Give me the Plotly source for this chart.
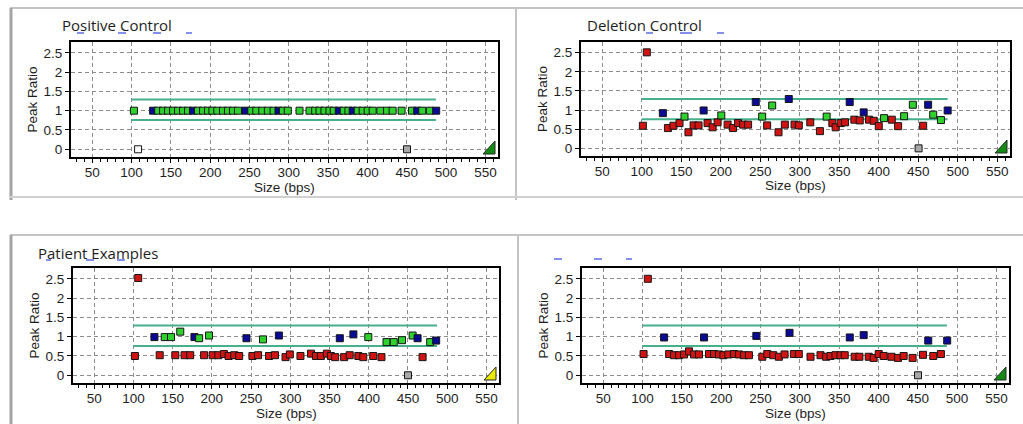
import plotly.graph_objects as go

# ---------------- data ----------------
# Types: G = target probe in range (green), B = reference probe (blue),
#        R = target probe out of range (red), S = grey control, W = empty (white)

pc_size = [103, 108.3, 127.4, 133.8, 140.1, 146.4, 152.8, 159.1, 165.5, 171.8, 178.2, 184.5,
           190.9, 197.2, 202.8, 209.1, 216.3, 222.6, 229, 235.3, 244.7, 252.3, 258.6, 266.2,
           273.4, 280.6, 286.9, 292.4, 298.7, 313.6, 326.3, 333.5, 339, 345.3, 351.7, 357.1,
           363.5, 369.8, 375.8, 381.2, 387.6, 393.9, 400.3, 406.6, 416.4, 424.9, 432, 443.4,
           450.3, 456.6, 463.3, 469.7, 479.4, 487.4]
pc_ratio = [1.0, 0.0, 1.0, 1.0, 1.0, 1.0, 1.0, 1.0, 1.0, 1.0, 1.0, 1.0,
            1.0, 1.0, 1.0, 1.0, 1.0, 1.0, 1.0, 1.0, 1.0, 1.0, 1.0, 1.0,
            1.0, 1.0, 1.0, 1.0, 1.0, 1.0, 1.0, 1.0, 1.0, 1.0, 1.0, 1.0,
            1.0, 1.0, 1.0, 1.0, 1.0, 1.0, 1.0, 1.0, 1.0, 1.0, 1.0, 1.0,
            0.0, 1.0, 1.0, 1.0, 1.0, 1.0]
pc_type = ["G", "W", "B", "G", "G", "G", "G", "G", "G", "G", "B", "G",
           "G", "G", "G", "G", "G", "G", "G", "G", "B", "G", "G", "G",
           "G", "G", "B", "G", "G", "G", "G", "G", "G", "G", "G", "G",
           "B", "G", "G", "B", "G", "G", "G", "G", "G", "G", "G", "G",
           "S", "G", "B", "G", "G", "B"]

dc_size = [101.3, 106.3, 126.6, 133, 140, 147.7, 154, 159, 165.5, 171.8, 178.2, 183.2,
           189.6, 195.9, 200.6, 208.6, 215.5, 221.8, 228.2, 234.5, 244.2, 252.3, 258.6, 265,
           273, 281, 286, 293.3, 298.7, 313.2, 325.4, 333.9, 341.1, 345.3, 351.7, 357.1,
           363.1, 369, 375.8, 380.8, 387.6, 393.5, 399.9, 406.6, 416.4, 424.4, 432, 443,
           450.3, 456.1, 462.4, 468.8, 478.6, 487.1]
dc_ratio = [0.59, 2.51, 0.92, 0.53, 0.59, 0.66, 0.83, 0.42, 0.60, 0.60, 0.99, 0.66,
            0.55, 0.68, 0.86, 0.62, 0.53, 0.66, 0.62, 0.62, 1.21, 0.83, 0.60, 1.12,
            0.42, 0.62, 1.29, 0.62, 0.60, 0.68, 0.45, 0.83, 0.66, 0.55, 0.66, 0.68,
            1.21, 0.75, 0.73, 0.94, 0.75, 0.72, 0.58, 0.79, 0.75, 0.58, 0.84, 1.14,
            0.0, 0.59, 1.14, 0.88, 0.74, 0.99]
dc_type = ["R", "R", "B", "R", "R", "R", "G", "R", "R", "R", "B", "R",
           "R", "R", "G", "R", "R", "R", "R", "R", "B", "G", "R", "G",
           "R", "R", "B", "R", "R", "R", "R", "G", "R", "R", "R", "R",
           "B", "R", "R", "B", "R", "R", "R", "G", "R", "R", "G", "G",
           "S", "R", "B", "G", "G", "B"]

pe_size = [101.9, 106.1, 126.8, 133.5, 139.9, 147.9, 153.4, 159.7, 165.2, 172.4, 177.8, 183.8,
           190.1, 196.4, 201, 208.2, 215.4, 221.3, 228.5, 234.8, 244.1, 251.7, 258.9, 265.2,
           272.8, 280.4, 285.4, 293.9, 299.4, 312.9, 326.4, 332.7, 339, 346.6, 351.7, 357.2,
           363.1, 368.6, 375.7, 380.4, 386.7, 393, 399.4, 405.7, 416.2, 422.6, 431.9, 442.4,
           450, 455.9, 462.2, 468.6, 478.3, 485.9]
pe_ratio = [0.50, 2.52, 0.99, 0.52, 0.99, 0.99, 0.52, 1.13, 0.52, 0.52, 0.99, 0.96,
            0.52, 1.03, 0.52, 0.52, 0.55, 0.50, 0.52, 0.50, 0.96, 0.50, 0.52, 0.93,
            0.50, 0.52, 1.03, 0.47, 0.54, 0.50, 0.56, 0.50, 0.50, 0.56, 0.50, 0.47,
            0.96, 0.47, 0.52, 1.06, 0.50, 0.47, 0.99, 0.50, 0.47, 0.86, 0.86, 0.91,
            0.0, 1.03, 0.96, 0.47, 0.86, 0.90]
pe_type = ["R", "R", "B", "R", "G", "G", "R", "G", "R", "R", "B", "G",
           "R", "G", "R", "R", "R", "R", "R", "R", "B", "R", "R", "G",
           "R", "R", "B", "R", "R", "R", "R", "R", "R", "R", "R", "R",
           "B", "R", "R", "B", "R", "R", "G", "R", "R", "G", "G", "G",
           "S", "G", "B", "R", "G", "B"]

p4_size = [101.3, 106.7, 127.4, 133.8, 140.1, 146.4, 152.8, 159.1, 165.5, 171.8, 178.2, 184.5,
           190.9, 197.2, 202.8, 209.1, 216.3, 222.6, 229, 235.3, 244.7, 252.3, 258.6, 266.2,
           273.4, 280.6, 286.9, 292.4, 298.7, 313.6, 326.3, 333.5, 339, 345.3, 351.7, 357.1,
           363.5, 369.8, 375.8, 381.2, 387.6, 393.9, 400.3, 406.6, 416.4, 424.9, 432, 443.4,
           450.3, 456.6, 463.3, 469.7, 479.4, 487.4]
p4_ratio = [0.55, 2.50, 0.98, 0.55, 0.52, 0.52, 0.54, 0.62, 0.54, 0.54, 0.98, 0.55,
            0.55, 0.54, 0.52, 0.54, 0.55, 0.54, 0.52, 0.52, 1.02, 0.48, 0.55, 0.52,
            0.48, 0.54, 1.10, 0.55, 0.55, 0.48, 0.52, 0.48, 0.50, 0.52, 0.52, 0.52,
            0.98, 0.48, 0.48, 1.04, 0.48, 0.45, 0.55, 0.50, 0.48, 0.45, 0.50, 0.45,
            0.0, 0.53, 0.90, 0.50, 0.55, 0.90]
p4_type = ["R", "R", "B", "R", "R", "R", "R", "R", "R", "R", "B", "R",
           "R", "R", "R", "R", "R", "R", "R", "R", "B", "R", "R", "R",
           "R", "R", "B", "R", "R", "R", "R", "R", "R", "R", "R", "R",
           "B", "R", "R", "B", "R", "R", "R", "R", "R", "R", "R", "R",
           "S", "R", "B", "R", "R", "B"]

panel_titles = ["Positive Control", "Deletion Control", "Patient Examples", ""]
thr_low = 0.76
thr_high = 1.29
thr_start = 100
thr_end = 487
x_ticks = [50, 100, 150, 200, 250, 300, 350, 400, 450, 500, 550]
y_ticks = [0, 0.5, 1, 1.5, 2, 2.5]
y_ticktext = ["0", "0.5", "1", "1.5", "2", "2.5"]

# ---------------- styling ----------------
W, H = 1023, 424
FILL = {"G": "#2fd12f", "B": "#0a0a96", "R": "#d01414", "S": "#a8a8a8", "W": "#ffffff"}
LINE_COL = "#45b08a"
TEXT = "#1e1e1e"
TICK_FONT = dict(family="Liberation Sans, Arial, sans-serif", size=13.5, color=TEXT)


def px(x):
    return x / W


def py(y):
    return 1 - y / H


# plot areas in pixels: left, right, top, bottom
areas = [(71, 498, 42, 157), (581, 1010, 42, 156), (73, 499, 268, 383), (582, 1009, 268, 383)]
data = [(pc_size, pc_ratio, pc_type), (dc_size, dc_ratio, dc_type),
        (pe_size, pe_ratio, pe_type), (p4_size, p4_ratio, p4_type)]

fig = go.Figure()
layout_axes = {}
for i, ((l, r, t, b), (xs, ys, ts)) in enumerate(zip(areas, data), start=1):
    xa = "x" if i == 1 else f"x{i}"
    ya = "y" if i == 1 else f"y{i}"
    for thr in (thr_high, thr_low):
        fig.add_trace(go.Scatter(x=[thr_start, thr_end], y=[thr, thr], mode="lines",
                                 line=dict(color=LINE_COL, width=2), xaxis=xa, yaxis=ya,
                                 showlegend=False, hoverinfo="skip"))
    fig.add_trace(go.Scatter(x=xs, y=ys, mode="markers", xaxis=xa, yaxis=ya, showlegend=False,
                             marker=dict(symbol="square", size=7,
                                         color=[FILL[k] for k in ts],
                                         line=dict(color="#151515", width=1))))
    common = dict(showline=True, linecolor="#000000", linewidth=2, mirror=True,
                  showgrid=True, gridcolor="#8c8c8c", gridwidth=1, griddash="4px,3px",
                  zeroline=False, ticks="outside", ticklen=4, tickcolor="#000000",
                  tickfont=TICK_FONT, fixedrange=True)
    layout_axes["xaxis" if i == 1 else f"xaxis{i}"] = dict(
        domain=[px(l), px(r)], range=[23, 566], anchor=ya, tickvals=x_ticks,
        ticktext=[str(v) for v in x_ticks], ticklabelstandoff=-2,
        minor=dict(dtick=10, tick0=0, ticks="outside", ticklen=3, tickcolor="#000000", showgrid=False),
        **common)
    layout_axes["yaxis" if i == 1 else f"yaxis{i}"] = dict(
        domain=[py(b), py(t)], range=[-0.2, 2.78], anchor=xa, tickvals=y_ticks,
        ticktext=y_ticktext, **common)

fig.update_layout(**layout_axes)

annotations = []
# axis titles
for (l, r, t, b) in areas:
    annotations.append(dict(text="Size (bps)", x=px((l + r) / 2), y=py(b + 30), xref="paper", yref="paper",
                            showarrow=False, font=TICK_FONT, xanchor="center", yanchor="middle",
                            borderpad=0))
    annotations.append(dict(text="Peak Ratio", x=px(l - 39), y=py((t + b) / 2), xref="paper", yref="paper",
                            showarrow=False, font=TICK_FONT, textangle=-90, xanchor="center", yanchor="middle"))
# panel titles
title_pos = [(60, 25), (585, 25), (36, 253), (554, 253)]
for txt, (tx, ty) in zip(panel_titles, title_pos):
    if txt:
        annotations.append(dict(text=txt, x=px(tx), y=py(ty), xref="paper", yref="paper", showarrow=False,
                                xanchor="left", yanchor="middle",
                                font=dict(family="Open Sans, sans-serif", size=15, color=TEXT)))
fig.update_layout(annotations=annotations)

shapes = []
# screenshot frame lines
frame = [((10, 8), (1023, 8), "#c4c4c4", 2), ((11, 8), (11, 200), "#a4a4a4", 3),
         ((516, 8), (516, 200), "#c4c4c4", 2), ((10, 197), (1023, 197), "#d0d0d0", 2),
         ((10, 235), (1023, 235), "#c4c4c4", 2), ((11, 235), (11, 424), "#a4a4a4", 3),
         ((518, 235), (518, 424), "#c4c4c4", 2)]
for (x0, y0), (x1, y1), c, w in frame:
    shapes.append(dict(type="line", xref="paper", yref="paper", x0=px(x0), y0=py(y0), x1=px(x1), y1=py(y1),
                       line=dict(color=c, width=w)))
# small blue marks under titles
dashes = [(77, 84, 33), (118, 126, 33), (153, 161, 33), (186, 192, 33),
          (646, 653, 33), (680, 692, 33), (717, 724, 33),
          (46, 51, 260), (86, 94, 260), (117, 125, 260),
          (554, 562, 259), (594, 602, 259), (626, 632, 259)]
for x0, x1, yy in dashes:
    shapes.append(dict(type="line", xref="paper", yref="paper", x0=px(x0), y0=py(yy), x1=px(x1), y1=py(yy),
                       line=dict(color="#5a6ae0", width=1.5)))
# status triangles in lower-right corner of each plot
tri_cols = ["#138a13", "#138a13", "#e8e800", "#138a13"]
for (l, r, t, b), c in zip(areas, tri_cols):
    x0, x1 = r - 15, r - 3
    y0, y1 = b - 3, b - 16
    path = f"M {px(x0)},{py(y0)} L {px(x1)},{py(y0)} L {px(x1)},{py(y1)} Z"
    shapes.append(dict(type="path", xref="paper", yref="paper", path=path, fillcolor=c,
                       line=dict(color="#2a2a2a", width=1)))
fig.update_layout(shapes=shapes)

fig.update_layout(width=W, height=H, autosize=False, margin=dict(l=0, r=0, t=0, b=0, pad=0),
                  paper_bgcolor="#ffffff", plot_bgcolor="#ffffff", showlegend=False)

fig.write_html("out.html", config={"displayModeBar": False})
